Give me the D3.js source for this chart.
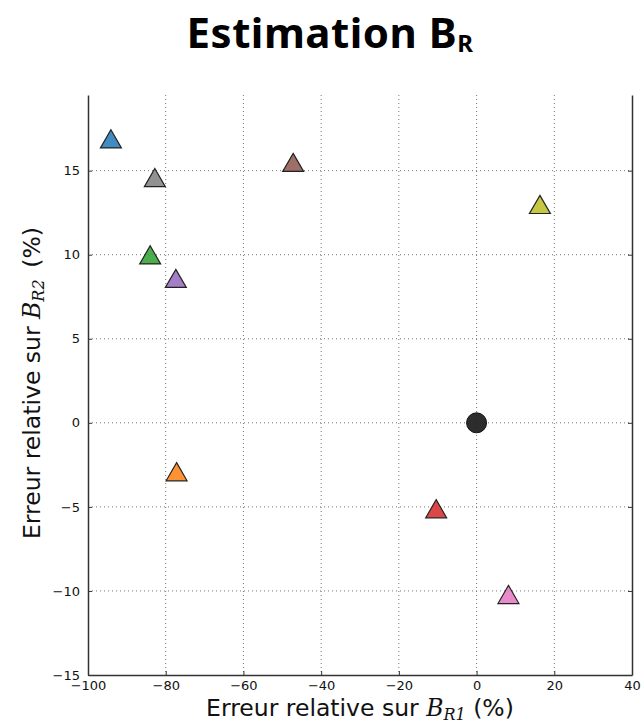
<!DOCTYPE html>
<html><head><meta charset="utf-8">
<script src="https://cdn.jsdelivr.net/npm/d3@7"></script>
<style>body{margin:0;background:#fff}svg{display:block}</style>
</head><body>
<svg id="c" width="641" height="724"></svg>
<script>
const pointNames = ["ref","c1","c2","c3","c4","c5","c6","c7","c8","c9"];
const errR1 = [0, -94.1, -77.2, -84.0, -10.4, -77.4, -47.2, 8.2, -82.8, 16.3];
const errR2 = [0, 16.8, -3.0, 9.9, -5.2, 8.5, 15.4, -10.3, 14.5, 12.9];
const pointColors = ["#222222","#1f77b4","#ff7f0e","#2ca02c","#d62728","#9467bd","#8c564b","#e377c2","#7f7f7f","#bcbd22"];
const pointShapes = ["circle","tri","tri","tri","tri","tri","tri","tri","tri","tri"];
const xTicks = [-100,-80,-60,-40,-20,0,20,40];
const yTicks = [-15,-10,-5,0,5,10,15];

const svg = d3.select("#c");
const m = {l:88, r:632, t:95, b:675};
const x = d3.scaleLinear().domain([-100,40]).range([m.l,m.r]);
const y = d3.scaleLinear().domain([-15,19.5]).range([m.b,m.t]);

// grid
const g = svg.append("g");
g.selectAll("line.gx").data(xTicks.slice(1,-1)).enter().append("line")
  .attr("x1",d=>x(d)).attr("x2",d=>x(d)).attr("y1",m.t).attr("y2",m.b)
  .attr("stroke","#777").attr("stroke-width",1).attr("stroke-dasharray","1,3");
g.selectAll("line.gy").data(yTicks.slice(1)).enter().append("line")
  .attr("y1",d=>y(d)).attr("y2",d=>y(d)).attr("x1",m.l).attr("x2",m.r)
  .attr("stroke","#777").attr("stroke-width",1).attr("stroke-dasharray","1,3");

// axes
const fmt = d => d < 0 ? "\u2212" + Math.abs(d) : String(d);
const xa = svg.append("g").attr("transform",`translate(0,${m.b})`)
  .call(d3.axisBottom(x).tickValues(xTicks).tickFormat(fmt).tickSizeInner(-4).tickSizeOuter(0).tickPadding(6));
const ya = svg.append("g").attr("transform",`translate(${m.l},0)`)
  .call(d3.axisLeft(y).tickValues(yTicks).tickFormat(fmt).tickSizeInner(-4).tickSizeOuter(0).tickPadding(8));
const yr = svg.append("g").attr("transform",`translate(${m.r},0)`)
  .call(d3.axisRight(y).tickValues(yTicks).tickFormat("").tickSizeInner(-4).tickSizeOuter(0));
[xa,ya,yr].forEach(a=>{
  a.select(".domain").attr("stroke","#333").attr("stroke-width",1.5);
  a.selectAll(".tick line").attr("stroke","#333");
  a.selectAll("text").attr("font-family","DejaVu Sans").attr("font-size",13).attr("fill","#111");
});

// points
const tri = d3.symbol().type(d3.symbolTriangle).size(190);
const pts = svg.append("g");
errR1.forEach((v,i)=>{
  if (pointShapes[i]==="circle") {
    pts.append("circle").attr("cx",x(v)).attr("cy",y(errR2[i])).attr("r",10)
      .attr("fill",pointColors[i]).attr("fill-opacity",0.95).attr("stroke","#111").attr("stroke-width",1);
  } else {
    pts.append("path").attr("d",tri())
      .attr("transform",`translate(${x(v)},${y(errR2[i])+1.5})`)
      .attr("fill",pointColors[i]).attr("fill-opacity",0.85).attr("stroke","#222").attr("stroke-width",1.2);
  }
});

// title
const t = svg.append("text").attr("x",330).attr("y",48).attr("text-anchor","middle")
  .attr("font-family","Noto Sans").attr("font-weight","bold").attr("font-size",42).attr("letter-spacing",0.5).attr("fill","#000");
t.append("tspan").text("Estimation B");
t.append("tspan").attr("font-size",24).attr("dy",4).text("R");

// x label
const xl = svg.append("text").attr("x",360).attr("y",716).attr("text-anchor","middle")
  .attr("font-family","DejaVu Sans").attr("font-size",23.5).attr("fill","#111");
xl.append("tspan").text("Erreur relative sur ");
xl.append("tspan").attr("font-family","DejaVu Serif").attr("font-style","italic").text("B");
xl.append("tspan").attr("font-family","DejaVu Serif").attr("font-style","italic").attr("font-size",16).attr("dy",4).text("R1");
xl.append("tspan").attr("dy",-4).text(" (%)");

// y label
const yl = svg.append("text").attr("transform","translate(40,383) rotate(-90)").attr("text-anchor","middle")
  .attr("font-family","DejaVu Sans").attr("font-size",23.5).attr("fill","#111");
yl.append("tspan").text("Erreur relative sur ");
yl.append("tspan").attr("font-family","DejaVu Serif").attr("font-style","italic").text("B");
yl.append("tspan").attr("font-family","DejaVu Serif").attr("font-style","italic").attr("font-size",16).attr("dy",4).text("R2");
yl.append("tspan").attr("dy",-4).text("\u2002(%)");
</script>
</body></html>
